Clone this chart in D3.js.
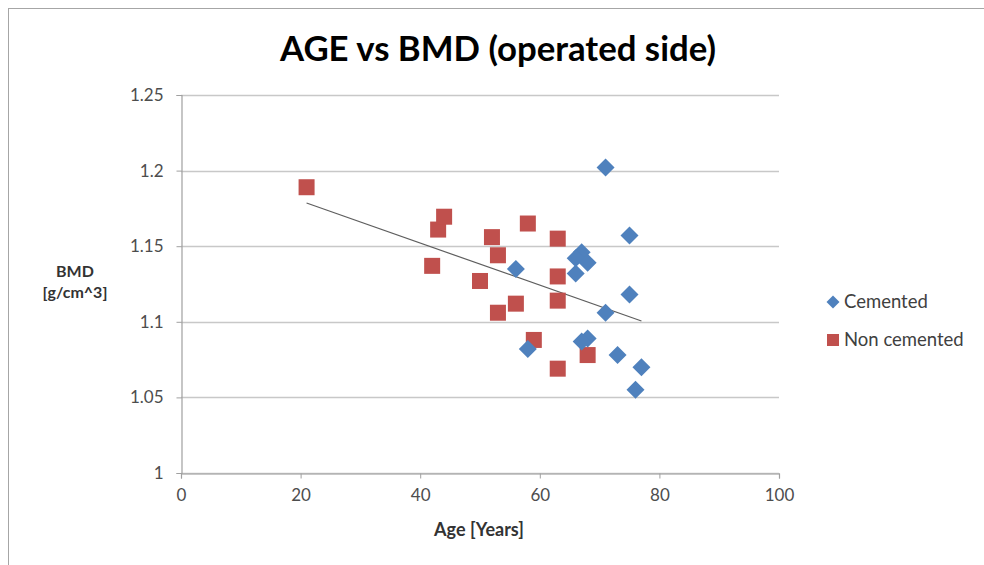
<!DOCTYPE html>
<html><head><meta charset="utf-8">
<script src="https://cdn.jsdelivr.net/npm/d3@7"></script>
<style>body{margin:0;background:#fff}svg{display:block}</style>
</head><body>
<script>
const title = "AGE vs BMD (operated side)";
const xTicks = [0, 20, 40, 60, 80, 100];
const yTicks = [1, 1.05, 1.1, 1.15, 1.2, 1.25];
const seriesNames = ["Cemented", "Non cemented"];
const cementedAge = [71, 75, 56, 67, 66, 68, 66, 75, 71, 68, 67, 58, 73, 77, 76];
const cementedBMD = [1.202, 1.157, 1.135, 1.146, 1.142, 1.139, 1.132, 1.118, 1.106, 1.089, 1.087, 1.082, 1.078, 1.070, 1.055];
const nonCemAge = [21, 43, 44, 42, 58, 52, 53, 50, 63, 63, 63, 56, 53, 59, 68, 63];
const nonCemBMD = [1.189, 1.161, 1.1695, 1.137, 1.165, 1.156, 1.144, 1.127, 1.155, 1.130, 1.114, 1.112, 1.106, 1.088, 1.078, 1.069];
const trendAge = [21, 77];
const trendBMD = [1.1786, 1.1005];

const W = 984, H = 565;
const svg = d3.select("body").append("svg").attr("width", W).attr("height", H);
const font = "Lato, 'Liberation Sans', Arial, sans-serif";

// frame
svg.append("rect").attr("x", 8.5).attr("y", 8.5).attr("width", W + 10).attr("height", H + 10)
  .attr("fill", "none").attr("stroke", "#a6a6a6").attr("stroke-width", 1);

const x = d3.scaleLinear().domain([0, 100]).range([181, 779]);
const y = d3.scaleLinear().domain([1, 1.25]).range([473, 95]);

// gridlines
svg.append("g").selectAll("line").data(yTicks).join("line")
  .attr("x1", x(0)).attr("x2", x(100))
  .attr("y1", d => Math.round(y(d)) + 0.5).attr("y2", d => Math.round(y(d)) + 0.5)
  .attr("stroke", "#c8c8c8").attr("stroke-width", 1.5);

// axes
const xAxis = svg.append("g").attr("transform", `translate(0,${Math.round(y(1)) + 0.5})`)
  .call(d3.axisBottom(x).tickValues(xTicks).tickSize(5).tickPadding(10).tickFormat(d3.format("d")));
const yAxis = svg.append("g").attr("transform", `translate(${Math.round(x(0)) + 0.5},0)`)
  .call(d3.axisLeft(y).tickValues(yTicks).tickSize(5).tickPadding(13).tickFormat(d => String(d)));
[xAxis, yAxis].forEach(a => {
  a.select(".domain").attr("stroke", "#a0a0a0").attr("stroke-width", 1.2);
  a.selectAll(".tick line").attr("stroke", "#a0a0a0");
  a.selectAll("text").attr("fill", "#4d4d4d").style("font-family", font).style("font-size", "17px");
});

// trendline
svg.append("line")
  .attr("x1", x(trendAge[0])).attr("y1", y(trendBMD[0]))
  .attr("x2", x(trendAge[1])).attr("y2", y(trendBMD[1]))
  .attr("stroke", "#5e5e5e").attr("stroke-width", 1.2);

const blue = "#4F81BD", red = "#C0504D";
const nonCem = nonCemAge.map((a, i) => ({ a, b: nonCemBMD[i] }));
const cem = cementedAge.map((a, i) => ({ a, b: cementedBMD[i] }));

svg.append("g").selectAll("rect").data(nonCem).join("rect")
  .attr("x", d => x(d.a) - 8).attr("y", d => y(d.b) - 8)
  .attr("width", 16).attr("height", 16).attr("fill", red);

const diamond = "M0,-9L9,0L0,9L-9,0Z";
svg.append("g").selectAll("path").data(cem).join("path")
  .attr("transform", d => `translate(${x(d.a)},${y(d.b)})`)
  .attr("d", diamond).attr("fill", blue);

// title
svg.append("text").attr("x", 498).attr("y", 61).attr("text-anchor", "middle")
  .attr("textLength", 436).attr("lengthAdjust", "spacingAndGlyphs")
  .style("font-family", font).style("font-weight", "bold").style("font-size", "34px")
  .attr("fill", "#000").text(title);

// axis titles
svg.append("text").attr("x", 479).attr("y", 536).attr("text-anchor", "middle")
  .style("font-family", font).style("font-weight", "bold").style("font-size", "18px")
  .attr("fill", "#333").text("Age [Years]");
const yt = svg.append("text").attr("text-anchor", "middle")
  .style("font-family", font).style("font-weight", "bold").style("font-size", "16px").attr("fill", "#333");
yt.append("tspan").attr("x", 75).attr("y", 277).text("BMD");
yt.append("tspan").attr("x", 75).attr("y", 298).text("[g/cm^3]");

// legend
const lg = svg.append("g");
lg.append("path").attr("transform", "translate(833,302)").attr("d", "M0,-6.5L6.5,0L0,6.5L-6.5,0Z").attr("fill", blue);
lg.append("rect").attr("x", 827).attr("y", 334).attr("width", 12).attr("height", 12).attr("fill", red);
lg.append("text").attr("x", 844).attr("y", 308).text(seriesNames[0]);
lg.append("text").attr("x", 844).attr("y", 346).text(seriesNames[1]);
lg.selectAll("text").style("font-family", font).style("font-size", "18.5px").attr("fill", "#404040");
</script>
</body></html>
